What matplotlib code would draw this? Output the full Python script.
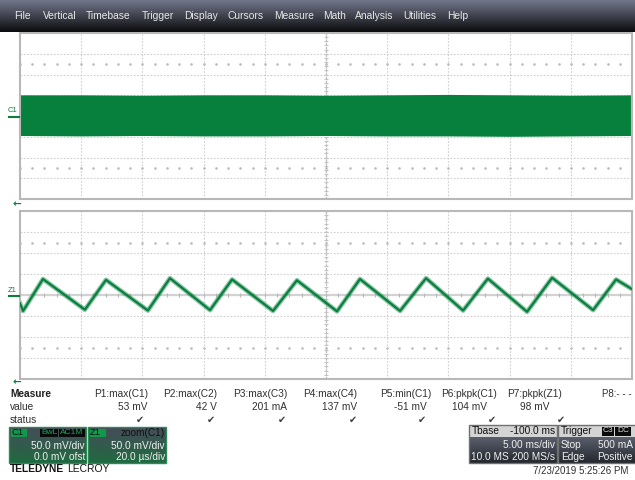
import numpy as np
import matplotlib
matplotlib.use("Agg")
import matplotlib.pyplot as plt
from matplotlib.patches import Rectangle

plt.rcParams['font.family'] = ['Liberation Sans', 'DejaVu Sans']

# ---------- data ----------
menu_items = ['File', 'Vertical', 'Timebase', 'Trigger', 'Display', 'Cursors',
              'Measure', 'Math', 'Analysis', 'Utilities', 'Help']

# C1: 5 ms/div, 50 mV/div, dense noise band (envelope in mV)
c1_t = [0, 5, 10, 15, 20, 25, 30, 35, 40, 45, 50]          # ms from left edge
c1_hi = [51, 51, 50, 51, 51, 50, 51, 52, 51, 50, 51]
c1_lo = [-47, -48, -47, -48, -48, -47, -48, -48, -49, -48, -47]

# Z1: zoom(C1), 20 us/div, 50 mV/div, triangle ripple (us, mV)
z1_t = [0.0, 1.0, 7.5, 21.2, 28.1, 41.8, 49.0, 62.1, 69.3, 82.7, 90.5,
        103.6, 111.1, 124.2, 132.7, 144.8, 152.9, 165.7, 173.9, 187.3, 194.8, 200.0]
z1_v = [-20, -38, 38, -35, 36, -37, 40, -36, 37, -38, 35,
        -39, 38, -38, 40, -37, 39, -40, 41, -36, 37, 14]

meas_names = ['P1:max(C1)', 'P2:max(C2)', 'P3:max(C3)', 'P4:max(C4)',
              'P5:min(C1)', 'P6:pkpk(C1)', 'P7:pkpk(Z1)']
meas_values = ['53 mV', '42 V', '201 mA', '137 mV', '-51 mV', '104 mV', '98 mV']

GREEN = '#07803e'
W, H = 635, 480
FS = 7.3

fig = plt.figure(figsize=(W / 100, H / 100), dpi=100)
fig.patch.set_facecolor('white')


def px_axes(x0, y0, x1, y1):
    return fig.add_axes([x0 / W, 1 - y1 / H, (x1 - x0) / W, (y1 - y0) / H])


def scope_grid(ax, xmax, ymax):
    ax.set_xlim(0, xmax)
    ax.set_ylim(-ymax, ymax)
    ax.set_xticks([]); ax.set_yticks([])
    dx, dy = xmax / 10, ymax / 4
    for i in range(1, 10):
        ax.axvline(i * dx, color='#cfcfcf', lw=0.8, ls=(0, (1.5, 1.5)), zorder=0)
    for j in range(-3, 4):
        ax.axhline(j * dy, color='#cfcfcf', lw=0.8, ls=(0, (1.5, 1.5)), zorder=0)
    ax.axvline(5 * dx, color='#bdbdbd', lw=0.9, ls=(0, (2, 1)), zorder=0)
    ax.axhline(0, color='#d2d2d2', lw=1.6, zorder=0)
    # minor ticks on centre lines and dot rows
    mx = np.arange(0, xmax + 1e-9, dx / 5)
    ax.plot(mx, np.zeros_like(mx), ls='none', marker='|', ms=2.5, mew=0.8,
            color='#b8b8b8', zorder=0)
    my = np.arange(-ymax, ymax + 1e-9, dy / 5)
    ax.plot(np.full_like(my, 5 * dx), my, ls='none', marker='_', ms=2.5, mew=0.8,
            color='#c4c4c4', zorder=0)
    for s in (-2.5, 2.5):
        ax.plot(mx, np.full_like(mx, s * dy), ls='none', marker='s', ms=0.8,
                color='#bcbcbc', zorder=0)
    for sp in ax.spines.values():
        sp.set_color('#b8b8b8')
        sp.set_linewidth(1.5)


# ---------- top grid: C1 ----------
ax1 = px_axes(20, 33, 632, 199)
scope_grid(ax1, 50, 200)
ax1.fill_between(c1_t, c1_lo, c1_hi, color=GREEN, lw=0, zorder=2)

# ---------- bottom grid: Z1 ----------
ax2 = px_axes(20, 211, 632, 379)
scope_grid(ax2, 200, 200)
ax2.plot(z1_t, z1_v, color=GREEN, lw=3.4, alpha=0.45, zorder=2, solid_joinstyle='round')
ax2.plot(z1_t, z1_v, color=GREEN, lw=1.6, zorder=3, solid_joinstyle='round')

# ---------- overlay in pixel coords ----------
ov = fig.add_axes([0, 0, 1, 1], facecolor='none')
ov.set_axis_off()


def grad(x0, y0, x1, y1, c_top, c_bot, z=1):
    c0 = np.array(matplotlib.colors.to_rgb(c_top))
    c1 = np.array(matplotlib.colors.to_rgb(c_bot))
    f = np.linspace(0, 1, 64)[:, None]
    img = (c0 * (1 - f) + c1 * f)[:, None, :]
    ov.imshow(img, extent=(x0, x1, y1, y0), aspect='auto', origin='upper', zorder=z,
              interpolation='bilinear')


# menu bar
grad(0, 0, W, 32, '#72768a', '#0c0c0e')
menu_x = [14, 43, 86, 142, 184, 228, 274, 323, 355, 403, 447]
for x, s in zip(menu_x, menu_items):
    ov.text(x, 16, s, color='#e8e8e8', fontsize=7.4, va='center', zorder=3)

# channel markers
ov.text(12, 111, 'C1', color=GREEN, fontsize=5.5, va='center', ha='center', zorder=3)
ov.plot([9, 19], [117, 117], color=GREEN, lw=1.5, zorder=3)
ov.text(12, 290, 'Z1', color=GREEN, fontsize=5.5, va='center', ha='center', zorder=3)
ov.plot([9, 19], [296, 296], color=GREEN, lw=1.5, zorder=3)
for y in (204, 382):
    ov.text(17, y, '←', color=GREEN, fontsize=7.5, va='center', ha='center', zorder=3,
            family='DejaVu Sans', fontweight='bold')

# measure table
TXT = '#303030'
ov.text(10, 394, 'Measure', color='#202020', fontsize=FS, fontweight='bold', va='center')
ov.text(10, 407, 'value', color=TXT, fontsize=FS, va='center')
ov.text(10, 420, 'status', color=TXT, fontsize=FS, va='center')
head_r = [148, 217, 287, 357, 431, 497, 562]
val_r = [148, 217, 287, 357, 427, 487, 550]
chk_x = [140, 211, 282, 353, 422, 492, 561]
for i in range(len(meas_names)):
    ov.text(head_r[i], 394, meas_names[i], color=TXT, fontsize=FS, ha='right', va='center')
    ov.text(val_r[i], 407, meas_values[i], color=TXT, fontsize=FS, ha='right', va='center')
    ov.text(chk_x[i], 420, '✔', color='#404040', fontsize=7, ha='center', va='center',
            family='DejaVu Sans')
ov.text(632, 394, 'P8:- - -', color=TXT, fontsize=FS - 0.3, ha='right', va='center')

# channel boxes
WHITE = '#f0f0f0'
for (x0, x1) in [(9, 86), (88, 166)]:
    grad(x0, 427, x1, 463, '#474c5a', '#1f6a40')
    ov.add_patch(Rectangle((x0, 427), x1 - x0, 36, fill=False, ec='#2c8a55', lw=1.0, zorder=2))
    ov.add_patch(Rectangle((x0 + 1.5, 428.5), 16, 8, fc='#0e9a4a', ec='none', zorder=3))
ov.text(11, 432.5, 'C1', color='#101010', fontsize=6.8, va='center', zorder=4)
ov.add_patch(Rectangle((40, 428.5), 18, 8, fc='#0a0a0a', ec='none', zorder=3))
ov.add_patch(Rectangle((59, 428.5), 26, 8, fc='#0a0a0a', ec='none', zorder=3))
ov.text(49, 432.5, 'BwL', color='#1aa55a', fontsize=6, ha='center', va='center', zorder=4)
ov.text(72, 432.5, 'AC1M', color='#1aa55a', fontsize=6, ha='center', va='center', zorder=4)
ov.text(85, 446, '50.0 mV/div', color=WHITE, fontsize=FS, ha='right', va='center', zorder=4)
ov.text(85, 457.5, '0.0 mV ofst', color=WHITE, fontsize=FS, ha='right', va='center', zorder=4)
ov.text(90, 432.5, 'Z1', color='#101010', fontsize=6.8, va='center', zorder=4)
ov.text(165, 432.5, 'zoom(C1)', color='#101010', fontsize=FS, ha='right', va='center', zorder=4)
ov.text(165, 446, '50.0 mV/div', color=WHITE, fontsize=FS, ha='right', va='center', zorder=4)
ov.text(165, 457.5, '20.0 µs/div', color=WHITE, fontsize=FS, ha='right', va='center', zorder=4)

# logo
logo = ov.text(10, 469, 'TELEDYNE', color='#151515', fontsize=7.4, fontweight='bold',
               va='center')
ov.annotate('LECROY', xy=(1, 0.5), xycoords=logo, xytext=(2.5, 0),
            textcoords='offset points', color='#151515', fontsize=7.4, va='center')

# timebase / trigger boxes
for (x0, x1) in [(469, 557), (558, 636)]:
    grad(x0, 437, x1, 463, '#5a5f6c', '#24272e')
    ov.add_patch(Rectangle((x0, 425), x1 - x0, 12, fc='#d4d4d4', ec='none', zorder=2))
    ov.add_patch(Rectangle((x0, 425), x1 - x0, 38, fill=False, ec='#707070', lw=1.0, zorder=3))
ov.text(472, 431, 'Tbase', color='#101010', fontsize=FS, va='center', zorder=4)
ov.text(555, 431, '-100.0 ms', color='#101010', fontsize=FS, ha='right', va='center', zorder=4)
ov.text(555, 445, '5.00 ms/div', color=WHITE, fontsize=FS, ha='right', va='center', zorder=4)
ov.text(471, 457.5, '10.0 MS', color=WHITE, fontsize=FS, va='center', zorder=4)
ov.text(555, 457.5, '200 MS/s', color=WHITE, fontsize=FS, ha='right', va='center', zorder=4)
ov.text(561, 431, 'Trigger', color='#101010', fontsize=FS, va='center', zorder=4)
ov.add_patch(Rectangle((602, 426.5), 12, 9, fc='#0a0a0a', ec='none', zorder=4))
ov.add_patch(Rectangle((615, 426.5), 16, 9, fc='#0a0a0a', ec='none', zorder=4))
ov.text(608, 431, 'C3', color='#e0e0e0', fontsize=6, ha='center', va='center', zorder=5)
ov.text(623, 431, 'DC', color='#e0e0e0', fontsize=6, ha='center', va='center', zorder=5)
ov.text(561, 445, 'Stop', color=WHITE, fontsize=FS, va='center', zorder=4)
ov.text(633, 445, '500 mA', color=WHITE, fontsize=FS, ha='right', va='center', zorder=4)
ov.text(561, 457.5, 'Edge', color=WHITE, fontsize=FS, va='center', zorder=4)
ov.text(633, 457.5, 'Positive', color=WHITE, fontsize=FS, ha='right', va='center', zorder=4)

ov.text(628, 471, '7/23/2019 5:25:26 PM', color='#303030', fontsize=7, ha='right', va='center')

ov.set_xlim(0, W)
ov.set_ylim(H, 0)

fig.savefig('out.png', dpi=100)
